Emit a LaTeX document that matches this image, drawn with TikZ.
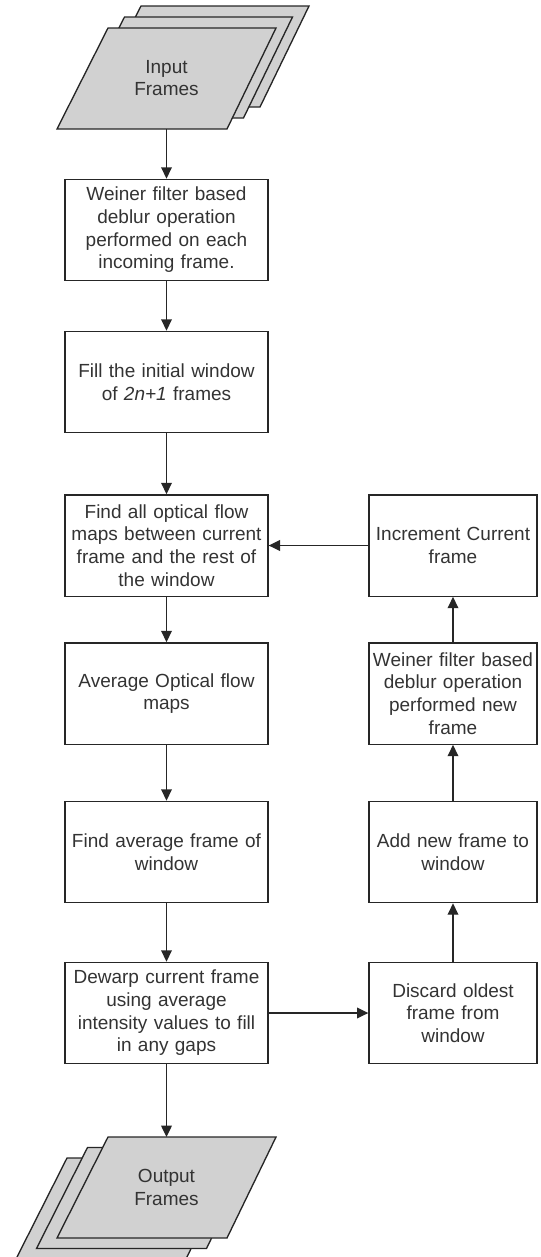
\documentclass[tikz,border=0pt]{standalone}
\usepackage{fontspec}
\setmainfont{Liberation Sans}
\usetikzlibrary{arrows.meta}

\tikzset{every picture/.style={line width=1pt}}
\tikzset{
  lbox/.style={draw=black!85, rectangle, minimum width=152.25pt, minimum height=76pt,
    text width=148pt, align=center, inner sep=0pt,
    font=\fontsize{14.25}{17}\selectfont, text=black!80},
  rbox/.style={lbox, minimum width=126pt, text width=124pt},
  arr/.style={draw=black!85, -{Triangle[length=8.5pt,width=8pt]}},
  sheet/.style={draw=black!85, fill=black!18},
  sheettext/.style={align=center, inner sep=0pt, font=\fontsize{14.25}{17}\selectfont, text=black!80},
}

\begin{document}
\begin{tikzpicture}[x=0.75pt,y=0.75pt,yscale=-1,xscale=1]
\useasboundingbox (0,0) rectangle (540,1257);

%Input frames (three sheets)
\draw [sheet] (141,6) -- (309,6) -- (260,107) -- (90,107) -- cycle ;
\draw [sheet] (124.5,17) -- (292.5,17) -- (243.5,118) -- (73.5,118) -- cycle ;
\draw [sheet] (108,28) -- (276,28) -- (227,129) -- (57,129) -- cycle ;
\node [sheettext] (inframes) at (166.5,78) {Input\\Frames};
\coordinate (inbot) at (166.5,129);

%Left column
\node [lbox] (deblur) at (166.5,230) {Weiner filter based\\deblur operation\\performed on each\\incoming frame.};
\node [lbox] (fillwin) at (166.5,382) {Fill the initial window\\of \textit{2n+1} frames};
\node [lbox] (optflow) at (166.5,545.5) {Find all optical flow\\maps between current\\frame and the rest of\\the window};
\node [lbox] (avgflow) at (166.5,693.5) {Average Optical flow\\maps};
\node [lbox] (avgframe) at (166.5,852) {Find average frame of\\window};
\node [lbox] (dewarp) at (166.5,1013) {Dewarp current frame\\using average\\intensity values to fill\\in any gaps};

%Right column
\node [rbox] (increment) at (453,545.5) {Increment Current\\frame};
\node [rbox] (deblurnew) at (453,693.5) {Weiner filter based\\deblur operation\\performed new\\frame};
\node [rbox] (addnew) at (453,852) {Add new frame to\\window};
\node [rbox] (discard) at (453,1013) {Discard oldest\\frame from\\window};

%Output frames (three sheets)
\draw [sheet] (67,1158) -- (235,1158) -- (186,1259) -- (16,1259) -- cycle ;
\draw [sheet] (87.5,1147.5) -- (255.5,1147.5) -- (206.5,1248.5) -- (36.5,1248.5) -- cycle ;
\draw [sheet] (108,1137) -- (276,1137) -- (227,1238) -- (57,1238) -- cycle ;
\node [sheettext] (outframes) at (166.5,1187.5) {Output\\Frames};
\coordinate (outtop) at (166.5,1137);

%Connectors
\draw [arr] (inbot) -- (deblur);
\draw [arr] (deblur) -- (fillwin);
\draw [arr] (fillwin) -- (optflow);
\draw [arr] (optflow) -- (avgflow);
\draw [arr] (avgflow) -- (avgframe);
\draw [arr] (avgframe) -- (dewarp);
\draw [arr] (dewarp) -- (outtop);
\draw [arr] (dewarp) -- (discard);
\draw [arr] (discard) -- (addnew);
\draw [arr] (addnew) -- (deblurnew);
\draw [arr] (deblurnew) -- (increment);
\draw [arr] (increment) -- (optflow);

\end{tikzpicture}
\end{document}
